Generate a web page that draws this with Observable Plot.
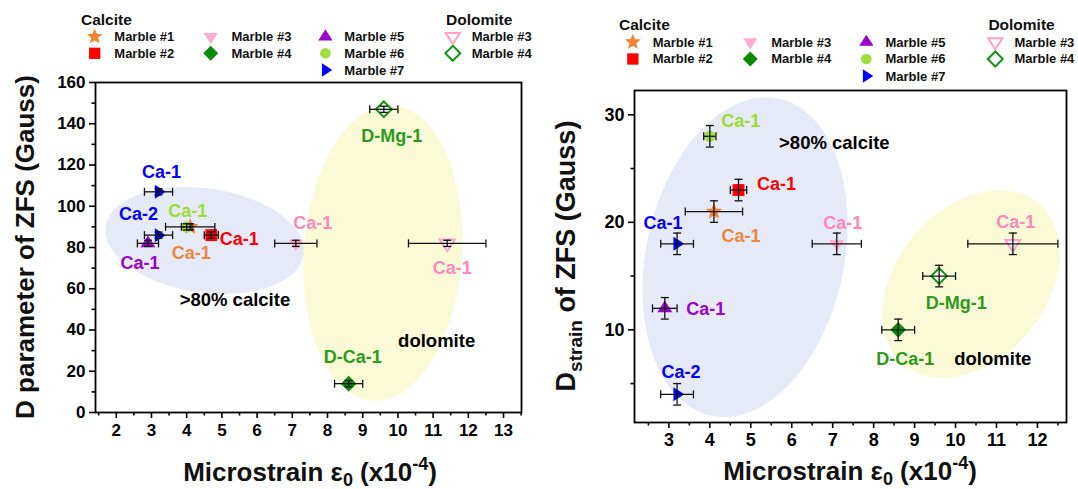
<!DOCTYPE html>
<html><head><meta charset="utf-8">
<script src="https://cdn.jsdelivr.net/npm/d3@7"></script>
<script src="https://cdn.jsdelivr.net/npm/@observablehq/plot@0.6"></script>
<style>
html,body{margin:0;padding:0;background:#fff;}
#wrap{position:relative;width:1078px;height:489px;overflow:hidden;font-family:"Liberation Sans",Arial,Helvetica,sans-serif;}
#left{position:absolute;left:0;top:0;}
#right{position:absolute;left:540px;top:0;}
#overlay{position:absolute;left:0;top:0;pointer-events:none;}
</style></head><body>
<div id="wrap"><div id="left"></div><div id="right"></div><svg id="overlay" width="1078" height="489"></svg></div>
<script>
const FONT = '"Liberation Sans", Arial, Helvetica, sans-serif';

// ---------------- data ----------------
const group = ["Calcite","Calcite","Calcite","Calcite","Calcite","Calcite","Calcite","Calcite","Dolomite","Dolomite"];
const sample = ["Marble #1","Marble #2","Marble #3","Marble #4","Marble #5","Marble #6","Marble #7","Marble #7","Marble #3","Marble #4"];
const site = ["Ca-1","Ca-1","Ca-1","D-Ca-1","Ca-1","Ca-1","Ca-1","Ca-2","Ca-1","D-Mg-1"];
const microstrain = [4.1, 4.7, 7.1, 8.6, 2.9, 4.0, 3.2, 3.2, 11.4, 9.6];
const microstrainErr = [0.7, 0.2, 0.6, 0.4, 0.3, 0.15, 0.4, 0.4, 1.1, 0.4];
const dParam = [90, 86, 82, 14, 82, 90, 107, 86, 82, 147];
const dParamErr = [1.5, 1.5, 1.5, 1.5, 1.5, 1.5, 1.5, 1.5, 1.5, 1.5];
const dStrain = [21, 23, 18, 10, 12, 28, 18, 4, 18, 15];
const dStrainErr = [1, 1, 1, 1, 1, 1, 1, 1, 1, 1];

const xTicksLeft = [2,3,4,5,6,7,8,9,10,11,12,13];
const xMinorLeft = [1.5,2.5,3.5,4.5,5.5,6.5,7.5,8.5,9.5,10.5,11.5,12.5,13.5];
const yTicksLeft = [0,20,40,60,80,100,120,140,160];
const yMinorLeft = [10,30,50,70,90,110,130,150];
const xTicksRight = [3,4,5,6,7,8,9,10,11,12];
const xMinorRight = [2.5,3.5,4.5,5.5,6.5,7.5,8.5,9.5,10.5,11.5,12.5];
const yTicksRight = [10,20,30];
const yMinorRight = [5,15,25];

// ---------------- styles ----------------
const markerStyle = [
  {shape:"star",     color:"#F28330", text:"#E9873F", r:7.5},
  {shape:"square",   color:"#FF0000", text:"#FF0000", r:7},
  {shape:"triDown",  color:"#FFAED2", text:"#FF88BD", r:7.5},
  {shape:"diamond",  color:"#0A8C0A", text:"#2C9A1C", r:7.5},
  {shape:"triUp",    color:"#9900CC", text:"#9900CC", r:7.5},
  {shape:"circle",   color:"#9EDF3C", text:"#99DD33", r:7},
  {shape:"triRight", color:"#0000FF", text:"#0000FF", r:7},
  {shape:"triRight", color:"#0000FF", text:"#0000FF", r:7},
  {shape:"triDown",  color:"#FFA3C8", text:"#FF88BD", r:7.5, open:true},
  {shape:"diamond",  color:"#149614", text:"#2C9A1C", r:7.5, open:true}
];
const leftLabelOffset  = [[1,26],[28,4],[17,-20],[4,-26],[-8,20],[1,-16],[3,-20],[-20,-21],[5,25],[8,27]];
const rightLabelOffset = [[27,25],[38,-6],[6,-21],[7,29],[41,1],[31,-15],[-14,-21],[4,-22],[3,-22],[17,27]];

function drawShape(ctx, kind, r) {
  const h = r * Math.sqrt(3);
  switch (kind) {
    case "star": {
      const R = r * 1.15, ri = R * 0.45;
      for (let k = 0; k < 10; k++) {
        const a = -Math.PI / 2 + k * Math.PI / 5, rr = k % 2 ? ri : R;
        const x = rr * Math.cos(a), y = rr * Math.sin(a);
        k ? ctx.lineTo(x, y) : ctx.moveTo(x, y);
      }
      ctx.closePath(); break;
    }
    case "square": { const s = r * 0.85; ctx.moveTo(-s,-s); ctx.lineTo(s,-s); ctx.lineTo(s,s); ctx.lineTo(-s,s); ctx.closePath(); break; }
    case "circle": { const c = r * 0.8; ctx.moveTo(c, 0); ctx.arc(0, 0, c, 0, 2 * Math.PI); break; }
    case "triUp": ctx.moveTo(0, -2*h/3*0.9); ctx.lineTo(r, h/3*0.9); ctx.lineTo(-r, h/3*0.9); ctx.closePath(); break;
    case "triDown": ctx.moveTo(0, 2*h/3*0.9); ctx.lineTo(r, -h/3*0.9); ctx.lineTo(-r, -h/3*0.9); ctx.closePath(); break;
    case "triRight": ctx.moveTo(2*h/3*0.9, 0); ctx.lineTo(-h/3*0.9, r); ctx.lineTo(-h/3*0.9, -r); ctx.closePath(); break;
    case "diamond": { const d = r * 1.05; ctx.moveTo(0,-d); ctx.lineTo(d,0); ctx.lineTo(0,d); ctx.lineTo(-d,0); ctx.closePath(); break; }
    case "vbar": ctx.moveTo(0, -r); ctx.lineTo(0, r); break;
    case "hbar": ctx.moveTo(-r, 0); ctx.lineTo(r, 0); break;
  }
}
function sym(kind) { return {draw(ctx, size) { drawShape(ctx, kind, Math.sqrt(size / Math.PI)); }}; }

function ellipsePts(e, kx, ky) {
  const pts = [], phi = e.angle * Math.PI / 180;
  for (let k = 0; k < 120; k++) {
    const t = k / 120 * 2 * Math.PI;
    const px = e.rx * Math.cos(t) * Math.cos(phi) - e.ry * Math.sin(t) * Math.sin(phi);
    const py = e.rx * Math.cos(t) * Math.sin(phi) + e.ry * Math.sin(t) * Math.cos(phi);
    pts.push({x: e.cx + px / kx, y: e.cy - py / ky});
  }
  return pts;
}

function panel(cfg) {
  const rows = microstrain.map((x, i) => ({
    x, xlo: x - microstrainErr[i], xhi: x + microstrainErr[i],
    y: cfg.y[i], ylo: cfg.y[i] - cfg.yErr[i], yhi: cfg.y[i] + cfg.yErr[i], label: site[i]
  }));
  const kx = (cfg.width - cfg.ml - cfg.mr) / (cfg.xDomain[1] - cfg.xDomain[0]);
  const ky = (cfg.height - cfg.mt - cfg.mb) / (cfg.yDomain[1] - cfg.yDomain[0]);
  const marks = [];
  for (const e of cfg.ellipses)
    marks.push(Plot.line(ellipsePts(e, kx, ky), {x: "x", y: "y", fill: e.fill, stroke: "none", curve: "linear-closed"}));
  const tickFont = {fontSize: cfg.tickFont, fontWeight: "bold", fontFamily: FONT};
  marks.push(
    Plot.axisX({ticks: cfg.xTicks, tickSize: 6, tickPadding: 5, strokeWidth: 1.6, label: null, tickFormat: d => String(d), ...tickFont}),
    Plot.axisX({ticks: cfg.xMinor, tickSize: 3.5, strokeWidth: 1.6, label: null, tickFormat: () => ""}),
    Plot.axisY({ticks: cfg.yTicks, tickSize: 6, tickPadding: 4, strokeWidth: 1.6, label: null, tickFormat: d => String(d), ...tickFont}),
    Plot.axisY({ticks: cfg.yMinor, tickSize: 3.5, strokeWidth: 1.6, label: null, tickFormat: () => ""}),
    Plot.frame({stroke: "black", strokeWidth: 1.8})
  );
  rows.forEach((r, i) => {
    const s = markerStyle[i];
    marks.push(Plot.dot([r], {x: "x", y: "y", symbol: sym(s.shape), r: s.r,
      fill: s.open ? "white" : s.color, stroke: s.open ? s.color : "none", strokeWidth: 2}));
  });
  const eb = {stroke: "#111", strokeWidth: 1.3};
  marks.push(
    Plot.ruleY(rows, {y: "y", x1: "xlo", x2: "xhi", ...eb}),
    Plot.ruleX(rows, {x: "x", y1: "ylo", y2: "yhi", ...eb}),
    Plot.dot(rows, {x: "xlo", y: "y", symbol: sym("vbar"), r: 4, fill: "none", ...eb}),
    Plot.dot(rows, {x: "xhi", y: "y", symbol: sym("vbar"), r: 4, fill: "none", ...eb}),
    Plot.dot(rows, {x: "x", y: "ylo", symbol: sym("hbar"), r: 4, fill: "none", ...eb}),
    Plot.dot(rows, {x: "x", y: "yhi", symbol: sym("hbar"), r: 4, fill: "none", ...eb})
  );
  rows.forEach((r, i) => {
    const [dx, dy] = cfg.labelOffset[i];
    marks.push(Plot.text([r], {x: "x", y: "y", text: "label", dx, dy, fill: markerStyle[i].text,
      fontSize: 18, fontWeight: "bold", fontFamily: FONT}));
  });
  marks.push(Plot.text(cfg.notes, {x: "x", y: "y", text: "t", fill: "black", fontSize: 18.5, fontWeight: "bold", fontFamily: FONT}));
  return Plot.plot({
    width: cfg.width, height: cfg.height,
    marginLeft: cfg.ml, marginRight: cfg.mr, marginTop: cfg.mt, marginBottom: cfg.mb,
    x: {domain: cfg.xDomain}, y: {domain: cfg.yDomain},
    style: {fontFamily: FONT, color: "black", background: "transparent", overflow: "visible"},
    marks
  });
}

document.getElementById("left").appendChild(panel({
  width: 540, height: 489, ml: 95, mr: 19, mt: 82, mb: 77,
  xDomain: [1.41, 13.51], yDomain: [0, 160],
  xTicks: xTicksLeft, xMinor: xMinorLeft, yTicks: yTicksLeft, yMinor: yMinorLeft, tickFont: 17,
  y: dParam, yErr: dParamErr, labelOffset: leftLabelOffset,
  ellipses: [
    {cx: 4.51, cy: 83.4, rx: 100, ry: 52, angle: 8, fill: "#E6EAF6"},
    {cx: 9.57, cy: 77.3, rx: 79, ry: 148, angle: 4, fill: "#FAFAD6"}
  ],
  notes: [{x: 5.37, y: 54.6, t: ">80% calcite"}, {x: 11.10, y: 34.6, t: "dolomite"}]
}));

document.getElementById("right").appendChild(panel({
  width: 538, height: 489, ml: 94, mr: 12, mt: 90, mb: 67,
  xDomain: [2.16, 12.71], yDomain: [1.38, 32.26],
  xTicks: xTicksRight, xMinor: xMinorRight, yTicks: yTicksRight, yMinor: yMinorRight, tickFont: 18,
  y: dStrain, yErr: dStrainErr, labelOffset: rightLabelOffset,
  ellipses: [
    {cx: 4.86, cy: 16.75, rx: 99, ry: 162, angle: 12, fill: "#E6EAF6"},
    {cx: 10.38, cy: 14.26, rx: 105, ry: 75, angle: -50, fill: "#FAFAD6"}
  ],
  notes: [{x: 7.04, y: 27.36, t: ">80% calcite"}, {x: 10.91, y: 7.30, t: "dolomite"}]
}));

// ---------------- legends & axis titles ----------------
const ov = d3.select("#overlay").style("font-family", FONT);
const legendGroups = [{name: "Calcite", x: 81, y: 19}, {name: "Dolomite", x: 446, y: 19}];
const legendItems = [
  {i: 0, sx: 94.7, tx: 114.3, y: 36.7},
  {i: 1, sx: 94.7, tx: 114.3, y: 53.3},
  {i: 2, sx: 210.7, tx: 231.4, y: 36.7},
  {i: 3, sx: 210.7, tx: 231.4, y: 53.3},
  {i: 4, sx: 325.4, tx: 344.3, y: 36.7},
  {i: 5, sx: 325.4, tx: 344.3, y: 53.3},
  {i: 6, sx: 325.4, tx: 344.3, y: 70},
  {i: 8, sx: 452.8, tx: 471.7, y: 36.7},
  {i: 9, sx: 452.8, tx: 471.7, y: 53.3}
];
function drawLegend(fx, fy, scale) {
  const g = ov.append("g");
  for (const t of legendGroups)
    g.append("text").attr("x", fx(t.x)).attr("y", fy(t.y)).attr("dominant-baseline", "central")
      .attr("font-size", 15.5).attr("font-weight", "bold").attr("fill", "#111").text(t.name);
  for (const it of legendItems) {
    const s = markerStyle[it.i];
    const p = d3.path(); drawShape(p, s.shape, s.r * scale);
    g.append("path").attr("d", p.toString())
      .attr("transform", `translate(${fx(it.sx)},${fy(it.y)})`)
      .attr("fill", s.open ? "white" : s.color).attr("stroke", s.open ? s.color : "none").attr("stroke-width", 2);
    g.append("text").attr("x", fx(it.tx)).attr("y", fy(it.y)).attr("dominant-baseline", "central")
      .attr("font-size", 13).attr("font-weight", "bold").attr("fill", "#111").text(sample[it.i]);
  }
}
drawLegend(x => x, y => y, 0.95);
drawLegend(x => 619 + (x - 81) * 1.012, y => 24 + (y - 19) * 1.02, 0.95);

function xTitle(cx, by) {
  const t = ov.append("text").attr("x", cx).attr("y", by).attr("text-anchor", "middle")
    .attr("font-size", 26).attr("font-weight", "bold").attr("fill", "#111");
  t.append("tspan").text("Microstrain ε");
  t.append("tspan").attr("dy", 5).attr("font-size", 18).text("0");
  t.append("tspan").attr("dy", -5).text(" (x10");
  t.append("tspan").attr("dy", -11).attr("font-size", 18).text("-4");
  t.append("tspan").attr("dy", 11).text(")");
}
xTitle(310, 481);
xTitle(850, 480);

ov.append("text").attr("transform", "translate(34,247) rotate(-90)").attr("text-anchor", "middle")
  .attr("font-size", 26).attr("font-weight", "bold").attr("fill", "#111").text("D parameter of ZFS (Gauss)");
const yt = ov.append("text").attr("transform", "translate(575,256) rotate(-90)").attr("text-anchor", "middle")
  .attr("font-size", 27).attr("font-weight", "bold").attr("fill", "#111");
yt.append("tspan").text("D");
yt.append("tspan").attr("dy", 7).attr("font-size", 19).text("strain");
yt.append("tspan").attr("dy", -7).text(" of ZFS (Gauss)");
</script>
</body></html>
